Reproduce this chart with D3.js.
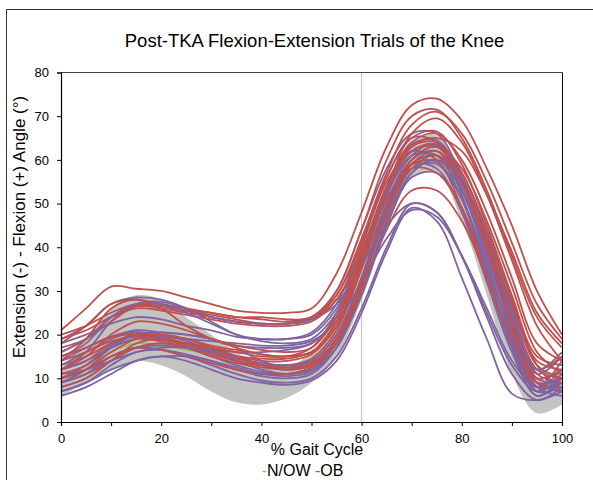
<!DOCTYPE html>
<html>
<head>
<meta charset="utf-8">
<script src="https://cdn.jsdelivr.net/npm/d3@7"></script>
<style>
  html, body { margin: 0; padding: 0; background: #fff; }
  svg { display: block; font-family: "Liberation Sans", Arial, sans-serif; }
</style>
</head>
<body>
<svg id="chart" width="593" height="480"></svg>
<script>
// ---- data ----
const gaitPct = [0, 5, 10, 15, 20, 25, 30, 35, 40, 45, 50, 55, 60, 65, 70, 75, 80, 85, 90, 95, 100];

// normative corridor (gray band)
const bandUpper = [12, 19, 26, 29, 28, 24, 20, 16, 13, 12.5, 16, 24, 38, 54, 64.5, 65.5, 56, 39, 21, 10, 9];
const bandLower = [6, 9, 12, 14, 13, 10.5, 7, 4.5, 4, 5.5, 9, 15, 28, 44, 56, 57, 46, 29, 11, 2, 4];

// N/OW (green, mostly hidden)
const nowTrial = [9, 12, 16, 18, 17.5, 16.5, 15.5, 14, 13, 12.5, 13.5, 19, 32, 47, 58, 60, 53, 39, 22, 12, 11];

// OB trials (red)
const obTrials = [
  [21, 26, 31, 30.5, 30, 28.5, 27, 25.5, 25, 25, 26, 34, 48, 63, 72.5, 74, 69, 58, 45, 30, 20],
  [18, 22, 27, 28, 27, 26, 25, 24, 24, 23.5, 24, 30, 44, 60, 70, 71.5, 65, 53, 38, 24, 17],
  [16, 19, 24, 26.5, 26, 25, 24, 23, 22.5, 22.5, 23.5, 29, 42, 57, 68, 71, 66, 55, 41, 27, 19],
  [13, 15, 18, 20, 19.5, 18, 16.5, 15, 14, 14, 15.5, 22, 36, 53, 66, 69.5, 64, 52, 37, 22, 14],
  [20, 22, 25, 27, 26.5, 25.5, 25, 24, 23.5, 23, 24, 29, 41, 56, 65, 66.5, 59, 45, 29, 15, 13],
  [15, 17, 19.5, 20.5, 20, 19, 17.5, 16.5, 15.5, 15, 16, 22, 36, 52, 62, 63.5, 56, 41, 25, 11, 9],
  [11, 13, 17, 19, 18.5, 17, 15.5, 14, 13, 13, 14, 20, 33, 49, 60, 63, 57, 43, 26, 12, 10],
  [9, 11, 14, 17, 18, 17, 15, 13.5, 12.5, 12, 13, 18, 31, 48, 59, 62, 55, 40, 23, 9, 8],
  [14, 16, 18.5, 19.5, 19, 18, 17, 16, 15, 15, 17, 25, 40, 55, 62, 60, 49, 33, 18, 8, 11],
  [12, 14, 18, 20, 19, 17.5, 16, 14.5, 13.5, 13, 14.5, 21, 35, 50, 59, 59.5, 51, 36, 20, 8, 9],
  [17, 19, 23, 26.5, 26.5, 25.5, 24.5, 23.5, 22.5, 22.5, 23.5, 28, 38, 51, 58, 57, 49, 35, 21, 12, 15],
  [10, 12, 15, 17, 16.5, 15, 13.5, 12, 11, 11, 12.5, 18, 30, 44, 53, 53, 46, 33, 19, 9, 10],
  [19, 21, 24, 26, 25.5, 24.5, 23.5, 22.5, 22, 22, 23, 28, 39, 53, 63, 65, 62, 52, 39, 25, 18],
  [8, 10, 14, 18, 19, 18, 16, 14, 13, 12.5, 13.5, 19, 32, 48, 60, 63, 58, 46, 31, 16, 11],
  [15, 17, 19.5, 20, 19, 17.5, 16, 15, 14.5, 14.5, 16, 23, 37, 53, 63, 64, 57, 44, 28, 14, 12],
  [12, 15, 20, 23, 22.5, 21, 19, 17.5, 16.5, 16, 17, 24, 38, 54, 64, 66, 60, 48, 33, 18, 14],
  [10, 12, 16, 19, 20, 19, 17, 15, 13, 12, 13, 19, 32, 47, 58, 61, 55, 42, 27, 13, 10],
  [14, 19, 26, 28, 26, 22, 19, 17, 15.5, 15, 16, 22, 36, 52, 62, 63, 55, 40, 23, 10, 12]
];

// other trials (purple)
const purpleTrials = [
  [12, 16, 23, 27, 27.5, 26, 24, 23, 22.5, 22.5, 24, 30, 44, 58, 66, 66, 56, 40, 22, 10, 12],
  [19, 22, 27, 28.5, 28, 26, 23, 20, 19, 19, 20.5, 27, 41, 56, 65, 64, 52, 34, 17, 8, 14],
  [18, 20, 22.5, 24, 23.5, 22, 21, 19.5, 19, 19, 20, 26, 39, 54, 63.5, 64.5, 56, 41, 24, 11, 15],
  [10, 13, 17.5, 20, 20, 19, 17, 15, 13, 12, 13, 19, 33, 49, 60, 62, 53, 37, 19, 7, 8],
  [8, 10, 14, 17, 18, 17, 15, 13, 11.5, 11, 12, 18, 32, 48, 59, 61, 54, 39, 22, 9, 7],
  [7, 9, 13, 16, 16.5, 15.5, 14, 12, 10.5, 10, 11, 17, 30, 46, 57, 60, 53, 38, 21, 8, 6],
  [11, 12, 15, 17, 17.5, 17, 16.5, 16, 16, 16.5, 18, 24, 37, 51, 59, 58, 48, 32, 16, 6, 9],
  [13, 16, 19, 20.5, 20, 18.5, 16.5, 14, 12, 11, 12, 17, 30, 45, 56, 57, 49, 34, 17, 6, 10],
  [9, 11, 15, 17, 16.5, 15, 13, 11, 9.5, 9, 10, 15, 26, 40, 50, 48, 38, 24, 11, 5, 8],
  [6, 8, 11, 14, 15, 14, 12, 10, 9, 8.5, 9.5, 14, 25, 39, 49, 46, 33, 19, 6.5, 5, 7],
  [12, 14, 17, 19, 19.5, 19, 18.5, 18, 17.5, 17.5, 18.5, 23, 32, 42, 48.5, 47, 38, 26, 14, 8, 12],
  [15, 18, 24, 27, 27, 25.5, 24, 23, 22.5, 22.5, 23.5, 27, 36, 45, 50, 48, 38, 25, 13, 7, 10],
  [9, 12, 17, 20, 20.5, 20, 19, 17, 14, 12.5, 13, 19, 33, 50, 61, 63.5, 56, 42, 25, 10, 9],
  [14, 17, 19.5, 21, 20.5, 20, 19, 17.5, 17, 17, 18, 24, 37, 52, 61, 61, 51, 35, 18, 7, 11],
  [7, 9, 12, 14, 15, 15, 14, 12.5, 11, 10.5, 11.5, 17, 29, 45, 57, 60, 55, 43, 28, 13, 7],
  [16, 19, 24, 27, 27, 25, 22.5, 20, 18.5, 18, 19, 25, 38, 53, 62, 63, 56, 42, 26, 12, 16],
  [10, 12, 14, 16, 17, 17, 16, 14.5, 13.5, 13, 14, 20, 33, 48, 58, 59, 51, 36, 20, 8, 9]
];

const xTicks = [0, 10, 20, 30, 40, 50, 60, 70, 80, 90, 100];
const xTickLabels = [0, 20, 40, 60, 80, 100];
const yTicks = [0, 10, 20, 30, 40, 50, 60, 70, 80];
const markerX = 60;

const titleText = "Post-TKA Flexion-Extension Trials of the Knee";
const yTitleText = "Extension (-) - Flexion (+) Angle (°)";
const xTitleText = "% Gait Cycle";
const legendItems = [{ name: "N/OW", color: "#9BBB59" }, { name: "OB", color: "#C0504D" }];

// ---- drawing ----
const svg = d3.select("#chart");
const L = 61, R = 562, T = 72.5, B = 422;
const x = d3.scaleLinear().domain([0, 100]).range([L, R]);
const y = d3.scaleLinear().domain([0, 80]).range([B, T]);

const RED = "#C0504D", PURPLE = "#8064A2", GREEN = "#9BBB59", BAND = "#C3C3C3";

// outer frame
svg.append("line").attr("x1", 6.5).attr("x2", 593).attr("y1", 9.5).attr("y2", 9.5)
  .attr("stroke", "#333").attr("stroke-width", 1);
svg.append("line").attr("x1", 6.5).attr("x2", 6.5).attr("y1", 9.5).attr("y2", 480)
  .attr("stroke", "#333").attr("stroke-width", 1);

// title
svg.append("text").attr("x", 314.5).attr("y", 47).attr("text-anchor", "middle")
  .attr("font-size", 18.5).attr("fill", "#000").text(titleText);

const plot = svg.append("g");

// band
const area = d3.area()
  .x((d, i) => x(gaitPct[i]))
  .y0((d, i) => y(bandLower[i]))
  .y1((d, i) => y(bandUpper[i]))
  .curve(d3.curveCatmullRom.alpha(0.5));
plot.append("path").datum(bandUpper).attr("d", area).attr("fill", BAND).attr("stroke", "none");

// marker line at 60%
plot.append("line").attr("x1", x(markerX)).attr("x2", x(markerX)).attr("y1", T).attr("y2", B)
  .attr("stroke", "#BDBDBD").attr("stroke-width", 1);

const line = d3.line()
  .x((d, i) => x(gaitPct[i]))
  .y(d => y(d))
  .curve(d3.curveCatmullRom.alpha(0.5));

plot.append("path").datum(nowTrial).attr("d", line).attr("fill", "none")
  .attr("stroke", GREEN).attr("stroke-width", 1.8);

const n = Math.max(obTrials.length, purpleTrials.length);
for (let i = 0; i < n; i++) {
  if (purpleTrials[i]) plot.append("path").datum(purpleTrials[i]).attr("d", line).attr("fill", "none")
    .attr("stroke", PURPLE).attr("stroke-width", 1.8).attr("stroke-linejoin", "round");
  if (obTrials[i]) plot.append("path").datum(obTrials[i]).attr("d", line).attr("fill", "none")
    .attr("stroke", RED).attr("stroke-width", 1.8).attr("stroke-linejoin", "round");
}

// plot frame top/right
svg.append("line").attr("x1", L).attr("x2", R + 0.5).attr("y1", T).attr("y2", T).attr("stroke", "#444").attr("stroke-width", 1);
svg.append("line").attr("x1", R + 0.5).attr("x2", R + 0.5).attr("y1", T).attr("y2", B).attr("stroke", "#000").attr("stroke-width", 1);

// axes
const xAxis = d3.axisBottom(x).tickValues(xTicks).tickSize(4).tickPadding(8)
  .tickFormat(d => xTickLabels.includes(d) ? d : "");
const gx = svg.append("g").attr("transform", `translate(0,${B})`).call(xAxis);
const yAxis = d3.axisLeft(y).tickValues(yTicks).tickSize(4).tickPadding(8);
const gy = svg.append("g").attr("transform", `translate(${L},0)`).call(yAxis);
[gx, gy].forEach(g => {
  g.select(".domain").attr("stroke", "#000").attr("stroke-width", 1.2);
  g.selectAll(".tick line").attr("stroke", "#000");
  g.selectAll("text").attr("font-size", 13).attr("fill", "#000")
    .attr("font-family", "'Liberation Sans', Arial, sans-serif");
});

// axis titles
svg.append("text").attr("transform", "translate(25,227) rotate(-90)").attr("text-anchor", "middle")
  .attr("font-size", 17).attr("fill", "#000").text(yTitleText);
svg.append("text").attr("x", 317).attr("y", 455).attr("text-anchor", "middle")
  .attr("font-size", 16).attr("fill", "#000").text(xTitleText);

// legend
const leg = svg.append("text").attr("x", 261.7).attr("y", 476).attr("font-size", 16).attr("fill", "#000");
legendItems.forEach((d, i) => {
  leg.append("tspan").attr("fill", d.color).text((i > 0 ? " " : "") + "-");
  leg.append("tspan").attr("fill", "#000").text(d.name);
});
</script>
</body>
</html>
